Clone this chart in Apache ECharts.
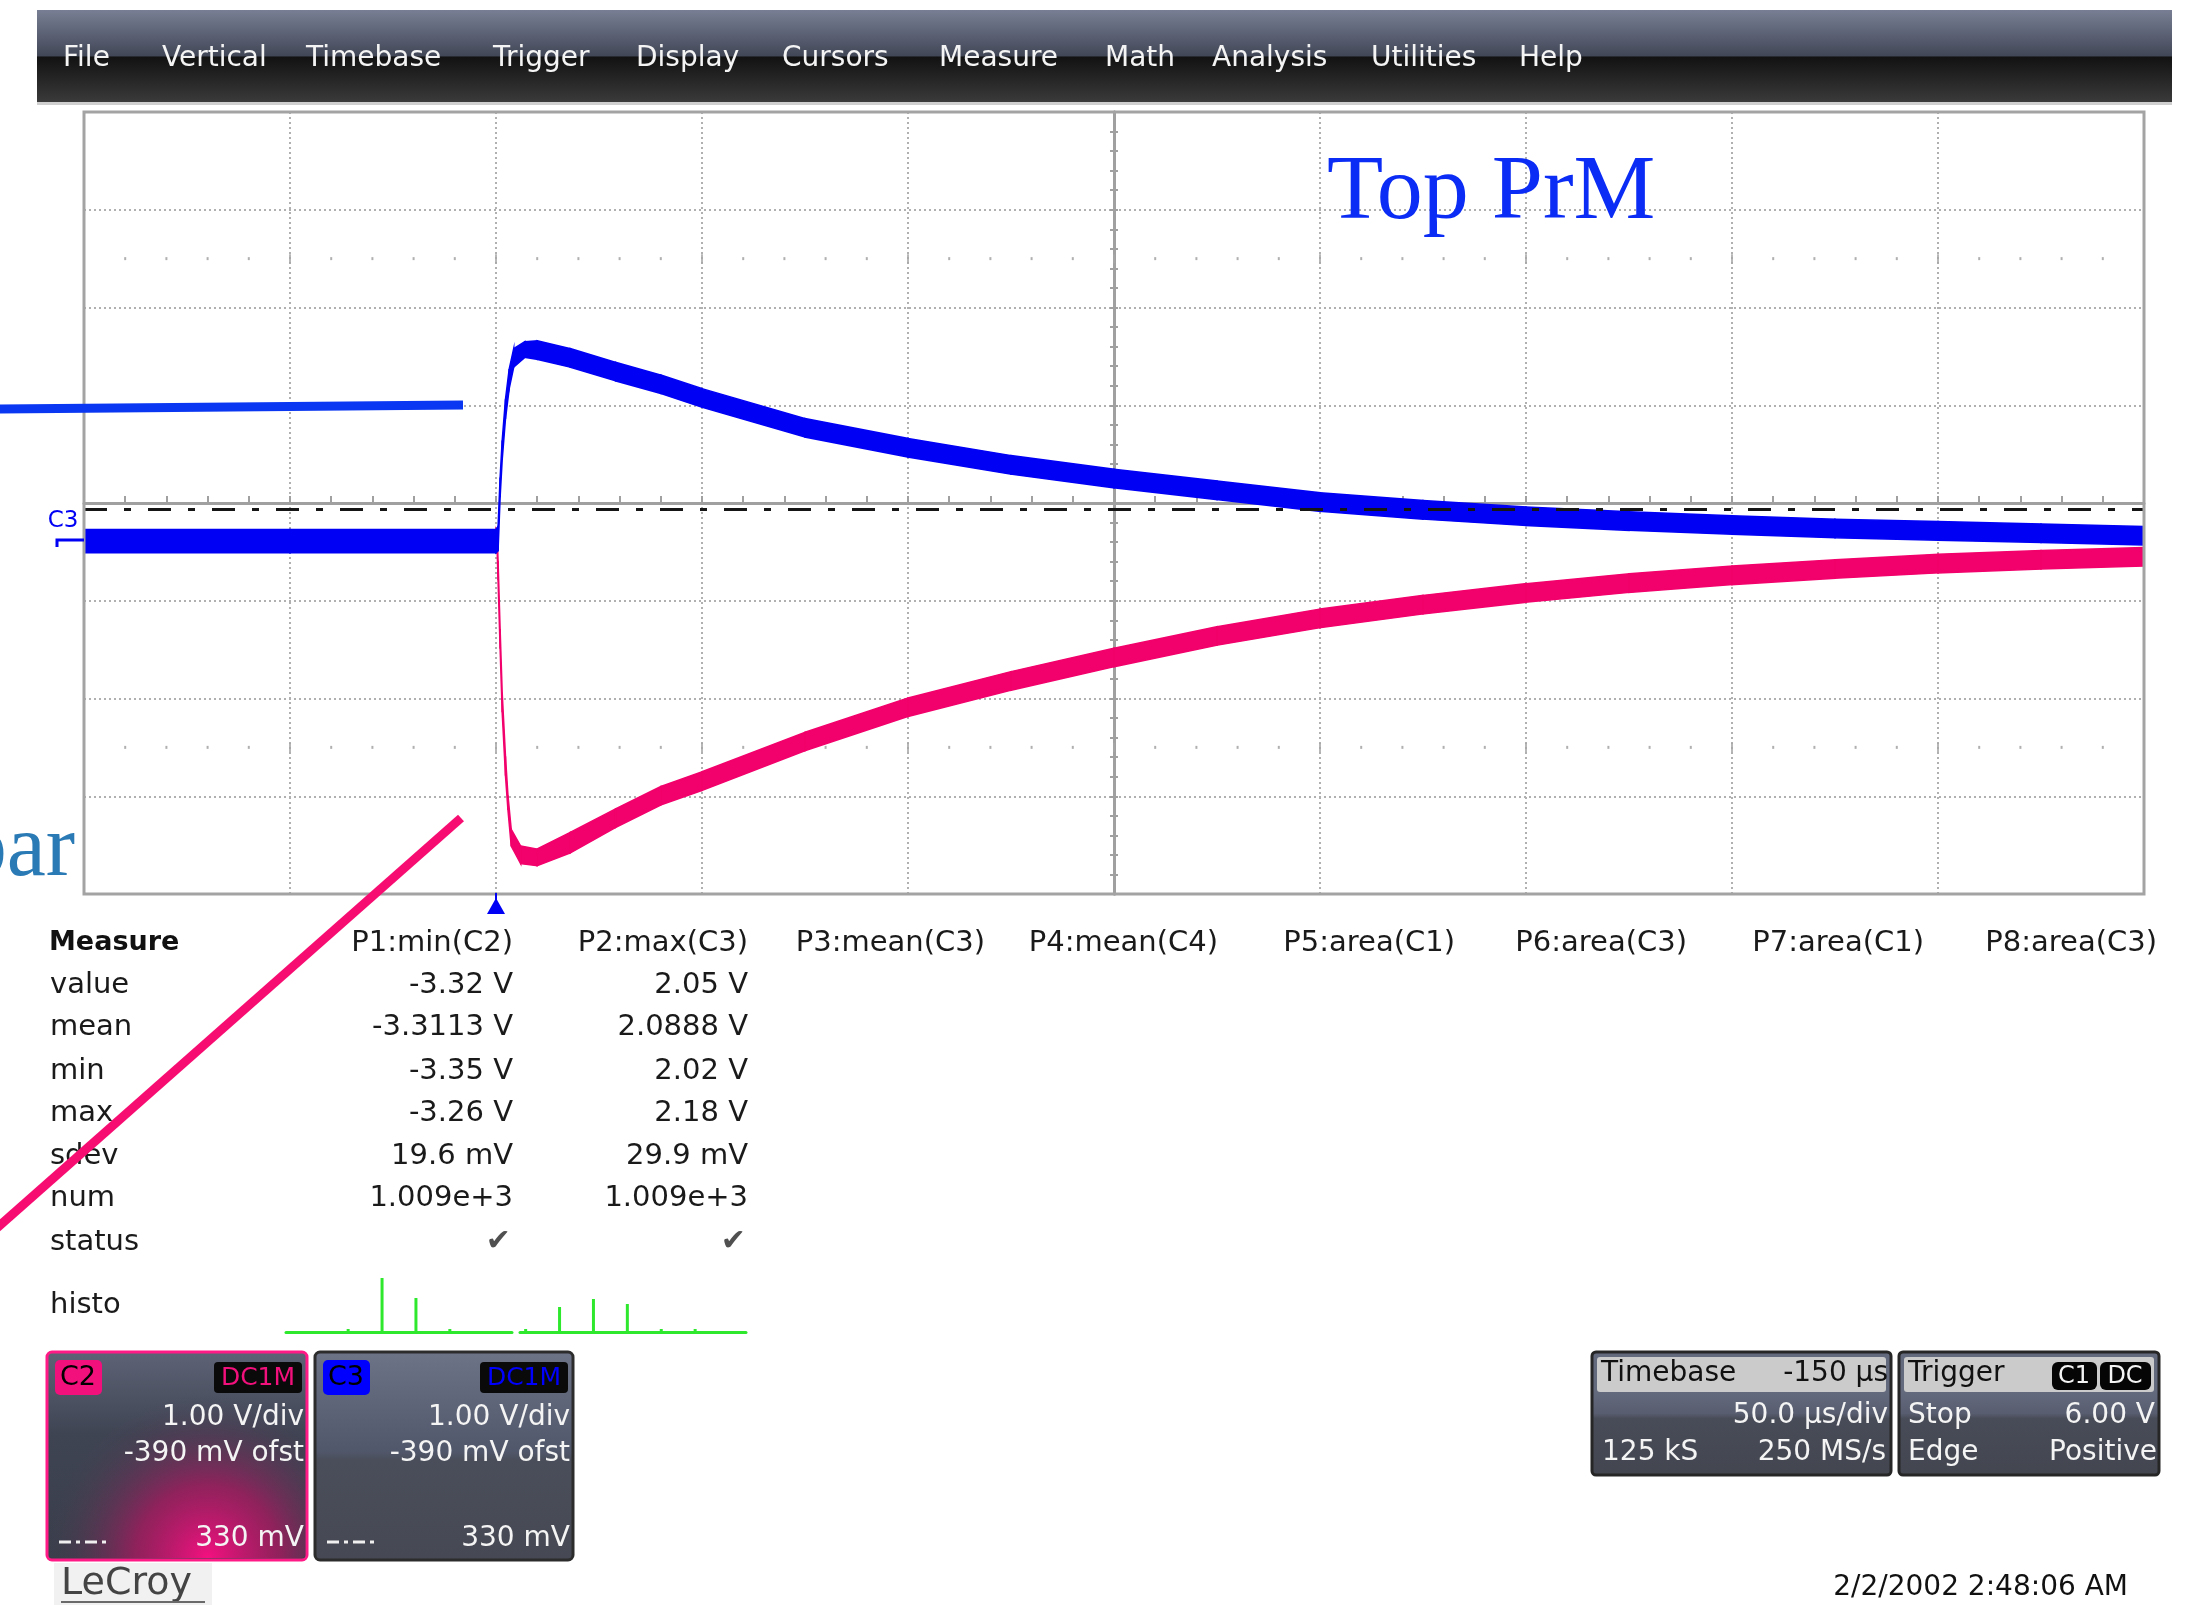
<!DOCTYPE html>
<html>
<head>
<meta charset="utf-8">
<script src="https://cdn.jsdelivr.net/npm/echarts@6/dist/echarts.min.js"></script>
<style>
  html, body { margin: 0; padding: 0; background: #ffffff; }
  #scope { width: 2203px; height: 1605px; }
</style>
</head>
<body>
<div id="scope"></div>
<script>
// ---- acquisition settings (as shown in the descriptor boxes) ----
const voltsPerDiv = 1.0;      // V/div, C2 and C3
const offsetVolts = -0.39;    // V, channel offset
const levelVolts = 0.33;      // V, dashed level marker
const timePerDiv = 50;        // µs/div
const triggerDelay = -150;    // µs

// ---- C3 (blue): noise-band envelope, time in µs, volts ----
const c3Time = [-100, -50, 0, 0.5, 1, 1.5, 2.3, 3.2, 4.3, 7, 10, 18, 29, 40, 50, 75, 100, 125, 150, 175,
                200, 225, 250, 275, 300, 325, 350, 375, 400];
const c3High = [0.12, 0.12, 0.12, 0.15, 0.65, 1.03, 1.45, 1.76, 1.97, 2.04, 2.05, 1.97, 1.83, 1.70, 1.56, 1.255, 1.05, 0.875, 0.735, 0.615,
                0.495, 0.415, 0.35, 0.30, 0.26, 0.225, 0.20, 0.175, 0.15];
const c3Low  = [-0.12, -0.12, -0.12, -0.10, 0.45, 0.83, 1.25, 1.56, 1.78, 1.88, 1.86, 1.78, 1.64, 1.51, 1.37, 1.065, 0.86, 0.685, 0.545, 0.425,
                0.305, 0.225, 0.16, 0.11, 0.07, 0.035, 0.01, -0.015, -0.04];

// ---- C2 (pink): noise-band envelope, time in µs, volts ----
const c2Time = [-100, -50, 0, 0.3, 0.5, 1, 1.5, 2.3, 2.9, 3.7, 6, 10, 18, 29, 40, 50, 75, 100, 125, 150,
                175, 200, 225, 250, 275, 300, 325, 350, 375, 400];
const c2High = [0.10, 0.10, 0.10, 0.05, -0.20, -0.90, -1.55, -2.20, -2.60, -2.95, -3.12, -3.15, -2.98, -2.74, -2.51, -2.36, -1.955, -1.605, -1.335, -1.095,
                -0.875, -0.695, -0.555, -0.435, -0.335, -0.255, -0.19, -0.135, -0.095, -0.065];
const c2Low  = [-0.11, -0.11, -0.11, -0.12, -0.40, -1.10, -1.75, -2.40, -2.75, -3.12, -3.30, -3.32, -3.19, -2.93, -2.70, -2.55, -2.145, -1.795, -1.525, -1.285,
                -1.065, -0.885, -0.745, -0.625, -0.525, -0.445, -0.38, -0.325, -0.285, -0.255];

// ---- measurement table ----
const menuItems = ['File', 'Vertical', 'Timebase', 'Trigger', 'Display', 'Cursors', 'Measure', 'Math', 'Analysis', 'Utilities', 'Help'];
const paramHeaders = ['P1:min(C2)', 'P2:max(C3)', 'P3:mean(C3)', 'P4:mean(C4)', 'P5:area(C1)', 'P6:area(C3)', 'P7:area(C1)', 'P8:area(C3)'];
const statRows = ['value', 'mean', 'min', 'max', 'sdev', 'num', 'status', 'histo'];
const p1Stats = ['-3.32 V', '-3.3113 V', '-3.35 V', '-3.26 V', '19.6 mV', '1.009e+3'];
const p2Stats = ['2.05 V', '2.0888 V', '2.02 V', '2.18 V', '29.9 mV', '1.009e+3'];
const histoBins = Array.from({ length: 20 }, (_, i) => 'b' + i);
const p1Histo = [0, 0, 0, 0, 0, 3, 0, 0, 54, 0, 0, 34, 0, 0, 3, 0, 0, 0, 0, 0];
const p2Histo = [3, 0, 0, 25, 0, 0, 33, 0, 0, 28, 0, 0, 3, 0, 0, 3, 0, 0, 0, 0];

// ---- layout ----
const W = 2203, H = 1605;
const plot = { left: 84, top: 112, width: 2060, height: 782 };
const menuX = [63, 162, 306, 493, 636, 782, 939, 1105, 1212, 1371, 1519];
const colRight = [513, 748, 985, 1218, 1455, 1687, 1924, 2157];
const rowY = [985, 1027, 1071, 1113, 1156, 1198, 1242, 1305];
const UI = 'DejaVu Sans';

// screen extent derived from the vertical / horizontal settings
const vCenter = -offsetVolts;
const vMin = vCenter - 4 * voltsPerDiv, vMax = vCenter + 4 * voltsPerDiv;
const tCenter = -triggerDelay;
const tMin = tCenter - 5 * timePerDiv, tMax = tCenter + 5 * timePerDiv;

const fmtV = v => {
  const mv = Math.round(v * 1000);
  return (Math.abs(mv) < 1000 ? mv + ' mV' : (mv / 1000).toFixed(2) + ' V');
};

// graticule decoration: dotted rows 1.5 div in from top and bottom
const dotData = [], dotTicks = [];
for (let k = -24; k <= 24; k++) {
  const x = k / 5;
  if (k % 5 === 0) { dotTicks.push([x, 2.5], [x, -2.5]); }
  else { dotData.push([x, 2.5], [x, -2.5]); }
}

function bandRenderer(times, hi, lo, color) {
  return function (params, api) {
    const i = params.dataIndex;
    if (i >= times.length - 1) return null;
    const pts = [
      api.coord([times[i], hi[i]]),
      api.coord([times[i + 1], hi[i + 1]]),
      api.coord([times[i + 1], lo[i + 1]]),
      api.coord([times[i], lo[i]])
    ];
    return { type: 'polygon', shape: { points: pts }, style: { fill: color, stroke: color, lineWidth: 1.5 } };
  };
}

function text(x, y, s, o) {
  o = o || {};
  return {
    type: 'text', x: x, y: y, z: o.z || 20, silent: true,
    style: {
      text: s,
      font: o.font || ('29px ' + UI),
      fill: o.fill || '#1a1a1a',
      align: o.align || 'left',
      verticalAlign: 'middle'
    }
  };
}
function rect(x, y, w, h, style, z, r) {
  return { type: 'rect', z: z || 10, silent: true, shape: { x: x, y: y, width: w, height: h, r: r || 0 }, style: style };
}
function seg(x1, y1, x2, y2, style, z) {
  return { type: 'line', z: z || 10, silent: true, shape: { x1: x1, y1: y1, x2: x2, y2: y2 }, style: style };
}

const LG = echarts.graphic.LinearGradient;
const RG = echarts.graphic.RadialGradient;
const g = [];

// menu bar
g.push(rect(37, 10, 2135, 92, { fill: new LG(0, 0, 0, 1, [
  { offset: 0, color: '#787f94' }, { offset: 0.5, color: '#424757' },
  { offset: 0.51, color: '#121212' }, { offset: 1, color: '#3a3a3a' }]) }, 5));
g.push(rect(37, 102, 2135, 3, { fill: '#cfcfcf' }, 5));
menuItems.forEach((m, i) => g.push(text(menuX[i], 59, m, { font: '28px ' + UI, fill: '#f4f4f4' })));

// plot frame
g.push(rect(plot.left, plot.top, plot.width, plot.height, { fill: 'none', stroke: '#a3a3a3', lineWidth: 3 }, 6));

// channel ground marker and trigger position marker
g.push(text(63, 521, 'C3', { font: '23px ' + UI, fill: '#0000f5', align: 'center' }));
g.push({ type: 'polyline', z: 12, silent: true, shape: { points: [[57, 547], [57, 540], [84, 540]] },
         style: { stroke: '#0000f5', lineWidth: 3, fill: 'none' } });
g.push({ type: 'polygon', z: 12, silent: true, shape: { points: [[487, 914], [505, 914], [496, 898]] }, style: { fill: '#0000f5' } });
g.push(seg(496, 893, 496, 900, { stroke: '#0000f5', lineWidth: 2 }, 12));

// measurement table
g.push(text(49, 943, 'Measure', { font: 'bold 27px ' + UI, fill: '#111' }));
statRows.forEach((r, i) => g.push(text(50, rowY[i], r)));
paramHeaders.forEach((h, i) => g.push(text(colRight[i], 943, h, { align: 'right' })));
p1Stats.forEach((s, i) => g.push(text(colRight[0], rowY[i], s, { align: 'right' })));
p2Stats.forEach((s, i) => g.push(text(colRight[1], rowY[i], s, { align: 'right' })));
g.push(text(colRight[0] - 2, rowY[6], '\u2714', { align: 'right', font: '30px ' + UI, fill: '#505050' }));
g.push(text(colRight[1] - 2, rowY[6], '\u2714', { align: 'right', font: '30px ' + UI, fill: '#505050' }));

// channel descriptor boxes
function channelBox(x, w, name, tagColor, borderColor, pink) {
  const y = 1352, h = 208, right = x + w - 3;
  g.push(rect(x, y, w, h, { fill: new LG(0, 0, 0, 1, pink ? [
      { offset: 0, color: '#5e6476' }, { offset: 0.4, color: '#3f4453' }, { offset: 1, color: '#3a3e4b' }] : [
      { offset: 0, color: '#6e7488' }, { offset: 0.48, color: '#51576a' },
      { offset: 0.52, color: '#4a4e5a' }, { offset: 1, color: '#464953' }]),
    stroke: borderColor, lineWidth: 3 }, 10, 5));
  if (pink) {
    g.push(rect(x + 2, y + 2, w - 4, h - 4, { fill: new RG(0.62, 1.0, 0.8, [
      { offset: 0, color: 'rgba(244,16,128,1)' }, { offset: 0.45, color: 'rgba(170,24,96,0.75)' },
      { offset: 1, color: 'rgba(60,62,78,0)' }]) }, 11, 4));
  }
  g.push(rect(x + 8, y + 8, 47, 35, { fill: tagColor }, 12, 5));
  g.push(text(x + 31, y + 26, name, { font: '27px ' + UI, fill: '#000', align: 'center', z: 13 }));
  g.push(rect(right - 90, y + 10, 88, 31, { fill: '#0a0a0a' }, 12, 4));
  g.push(text(right - 46, y + 26, 'DC1M', { font: '25px ' + UI, fill: tagColor, align: 'center', z: 13 }));
  g.push(text(right, 1418, voltsPerDiv.toFixed(2) + ' V/div', { font: '28px ' + UI, fill: '#f4f4f4', align: 'right', z: 13 }));
  g.push(text(right, 1454, fmtV(offsetVolts) + ' ofst', { font: '28px ' + UI, fill: '#f4f4f4', align: 'right', z: 13 }));
  g.push(text(right, 1539, fmtV(levelVolts), { font: '28px ' + UI, fill: '#f4f4f4', align: 'right', z: 13 }));
  g.push(seg(x + 12, 1542, x + 64, 1542, { stroke: '#f0f0f0', lineWidth: 3, lineDash: [12, 5, 4, 5] }, 13));
}
channelBox(47, 260, 'C2', '#f2107c', '#ff1a85', true);
channelBox(315, 258, 'C3', '#0000ff', '#2c2c2c', false);

// timebase / trigger boxes
function infoBox(x, w) {
  g.push(rect(x, 1352, w, 123, { fill: new LG(0, 0, 0, 1, [
    { offset: 0, color: '#646a7e' }, { offset: 0.33, color: '#646a7e' }, { offset: 0.5, color: '#585d6f' },
    { offset: 0.54, color: '#484c58' }, { offset: 1, color: '#43464f' }]), stroke: '#262626', lineWidth: 3 }, 10, 4));
  g.push(rect(x + 5, 1357, w - 10, 35, { fill: '#cbcbcb' }, 11, 3));
}
infoBox(1592, 299);
infoBox(1899, 260);
const wf = '28px ' + UI;
g.push(text(1601, 1374, 'Timebase', { font: wf, fill: '#111', z: 13 }));
g.push(text(1888, 1374, triggerDelay + ' \u00b5s', { font: wf, fill: '#111', align: 'right', z: 13 }));
g.push(text(1888, 1416, timePerDiv.toFixed(1) + ' \u00b5s/div', { font: wf, fill: '#f4f4f4', align: 'right', z: 13 }));
g.push(text(1602, 1453, '125 kS', { font: wf, fill: '#f4f4f4', z: 13 }));
g.push(text(1886, 1453, '250 MS/s', { font: wf, fill: '#f4f4f4', align: 'right', z: 13 }));
g.push(text(1908, 1374, 'Trigger', { font: wf, fill: '#111', z: 13 }));
g.push(rect(2052, 1362, 45, 28, { fill: '#050505' }, 12, 6));
g.push(rect(2100, 1362, 51, 28, { fill: '#050505' }, 12, 6));
g.push(text(2074, 1377, 'C1', { font: '24px ' + UI, fill: '#f4f4f4', align: 'center', z: 13 }));
g.push(text(2125, 1377, 'DC', { font: '24px ' + UI, fill: '#f4f4f4', align: 'center', z: 13 }));
g.push(text(1908, 1416, 'Stop', { font: wf, fill: '#f4f4f4', z: 13 }));
g.push(text(2155, 1416, '6.00 V', { font: wf, fill: '#f4f4f4', align: 'right', z: 13 }));
g.push(text(1908, 1453, 'Edge', { font: wf, fill: '#f4f4f4', z: 13 }));
g.push(text(2157, 1453, 'Positive', { font: wf, fill: '#f4f4f4', align: 'right', z: 13 }));

// maker logo and timestamp
g.push(rect(54, 1563, 158, 42, { fill: '#f1f1f1' }, 10));
g.push(text(61, 1584, 'LeCroy', { font: '38px ' + UI, fill: '#444', z: 13 }));
g.push(seg(61, 1602, 205, 1602, { stroke: '#6a6a6a', lineWidth: 2 }, 13));
g.push(text(2128, 1588, '2/2/2002 2:48:06 AM', { font: '28px ' + UI, fill: '#111', align: 'right' }));

// annotations drawn over the capture
g.push(text(1327, 194, 'Top PrM', { font: '92px "Liberation Serif"', fill: '#0b2cf5', z: 100 }));
g.push(text(75, 852, 'bar', { font: '88px "Liberation Serif"', fill: '#2a7ab5', align: 'right', z: 100 }));
g.push(seg(0, 409, 463, 405, { stroke: '#0a37f2', lineWidth: 9 }, 100));
g.push(seg(461, 818, -10, 1234, { stroke: '#f70d72', lineWidth: 9 }, 100));

const grat = { lineStyle: { color: '#b0b0b0', width: 2, type: [2, 3] } };
const center = { color: '#a0a0a0', width: 3 };

const option = {
  animation: false,
  backgroundColor: '#ffffff',
  grid: [
    { left: plot.left, top: plot.top, width: plot.width, height: plot.height },   // graticule
    { left: plot.left, top: plot.top, width: plot.width, height: plot.height },   // traces
    { left: 286, top: 1272, width: 226, height: 60 },                              // P1 histogram
    { left: 520, top: 1272, width: 226, height: 60 }                               // P2 histogram
  ],
  xAxis: [
    { gridIndex: 0, type: 'value', min: -5, max: 5, interval: 1,
      axisLine: { onZero: true, lineStyle: center },
      axisTick: { inside: true, length: 7, lineStyle: { color: '#a0a0a0', width: 2 } },
      minorTick: { show: true, splitNumber: 5, length: 7, lineStyle: { color: '#a0a0a0', width: 2 } },
      axisLabel: { show: false }, splitLine: Object.assign({ show: true }, grat) },
    { gridIndex: 0, type: 'value', min: -5, max: 5, show: false, position: 'top' },
    { gridIndex: 1, type: 'value', min: tMin, max: tMax, show: false },
    { gridIndex: 2, type: 'category', data: histoBins,
      axisLine: { lineStyle: { color: '#2ee82e', width: 3 } }, axisTick: { show: false }, axisLabel: { show: false } },
    { gridIndex: 3, type: 'category', data: histoBins,
      axisLine: { lineStyle: { color: '#2ee82e', width: 3 } }, axisTick: { show: false }, axisLabel: { show: false } }
  ],
  yAxis: [
    { gridIndex: 0, type: 'value', min: -4, max: 4, interval: 1, position: 'left',
      axisLine: { onZero: true, lineStyle: center },
      axisTick: { length: 4, lineStyle: { color: '#a0a0a0', width: 2 } },
      minorTick: { show: true, splitNumber: 5, length: 4, lineStyle: { color: '#a0a0a0', width: 2 } },
      axisLabel: { show: false }, splitLine: Object.assign({ show: true }, grat) },
    { gridIndex: 0, type: 'value', min: -4, max: 4, interval: 1, position: 'right',
      axisLine: { onZero: true, lineStyle: center },
      axisTick: { length: 4, lineStyle: { color: '#a0a0a0', width: 2 } },
      minorTick: { show: true, splitNumber: 5, length: 4, lineStyle: { color: '#a0a0a0', width: 2 } },
      axisLabel: { show: false }, splitLine: { show: false } },
    { gridIndex: 1, type: 'value', min: vMin, max: vMax, show: false },
    { gridIndex: 2, type: 'value', min: 0, max: 60, show: false },
    { gridIndex: 3, type: 'value', min: 0, max: 60, show: false }
  ],
  series: [
    { type: 'scatter', xAxisIndex: 0, yAxisIndex: 0, data: dotData, symbol: 'rect', symbolSize: [2, 3],
      itemStyle: { color: '#9c9c9c' }, silent: true, z: 1 },
    { type: 'scatter', xAxisIndex: 0, yAxisIndex: 0, data: dotTicks, symbol: 'rect', symbolSize: [2, 9],
      itemStyle: { color: '#a6a6a6' }, silent: true, z: 1 },
    { name: 'C2', type: 'custom', xAxisIndex: 2, yAxisIndex: 2, clip: true, z: 3, silent: true,
      data: c2Time.map((t, i) => [t, c2Low[i], c2High[i]]),
      renderItem: bandRenderer(c2Time, c2High, c2Low, '#f2006b') },
    { name: 'C3', type: 'custom', xAxisIndex: 2, yAxisIndex: 2, clip: true, z: 4, silent: true,
      data: c3Time.map((t, i) => [t, c3Low[i], c3High[i]]),
      renderItem: bandRenderer(c3Time, c3High, c3Low, '#0000f5') },
    { type: 'line', xAxisIndex: 2, yAxisIndex: 2, data: [], z: 6, silent: true,
      markLine: { silent: true, symbol: 'none', label: { show: false },
        lineStyle: { color: '#151515', width: 3, type: [23, 17, 7, 17] },
        data: [{ yAxis: levelVolts }] } },
    { type: 'bar', xAxisIndex: 3, yAxisIndex: 3, data: p1Histo, barWidth: 3, itemStyle: { color: '#2ee82e' }, silent: true },
    { type: 'bar', xAxisIndex: 4, yAxisIndex: 4, data: p2Histo, barWidth: 3, itemStyle: { color: '#2ee82e' }, silent: true }
  ],
  graphic: { elements: g }
};

const chart = echarts.init(document.getElementById('scope'), null, { renderer: 'canvas', width: W, height: H });
chart.setOption(option);
</script>
</body>
</html>
